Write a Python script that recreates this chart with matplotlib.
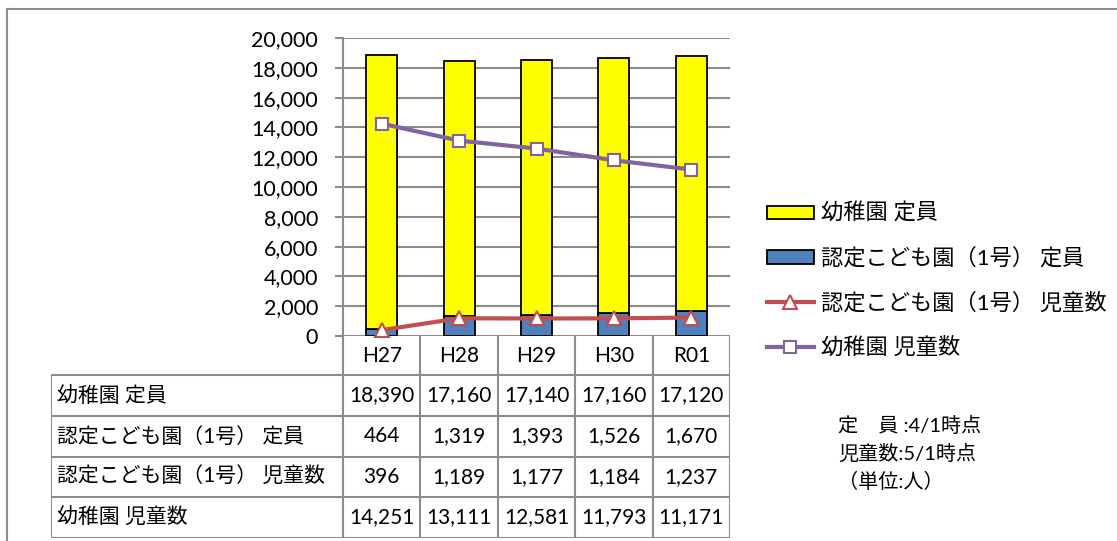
import matplotlib
matplotlib.use("Agg")
import matplotlib.pyplot as plt
from matplotlib.lines import Line2D
from matplotlib.patches import Patch
from matplotlib.ticker import FuncFormatter

plt.rcParams['font.family'] = ['Lato', 'Noto Sans CJK JP', 'DejaVu Sans']

categories = ["H27", "H28", "H29", "H30", "R01"]
kinder_cap = [18390, 17160, 17140, 17160, 17120]        # 幼稚園 定員
nintei_cap = [464, 1319, 1393, 1526, 1670]              # 認定こども園(1号) 定員
nintei_children = [396, 1189, 1177, 1184, 1237]         # 認定こども園(1号) 児童数
kinder_children = [14251, 13111, 12581, 11793, 11171]   # 幼稚園 児童数

row_labels = ["幼稚園 定員", "認定こども園（1号） 定員", "認定こども園（1号） 児童数", "幼稚園 児童数"]
legend_labels = ["幼稚園 定員", "認定こども園（1号） 定員", "認定こども園（1号） 児童数", "幼稚園 児童数"]
notes = ["定\u3000員 :4/1時点", "児童数:5/1時点", "（単位:人）"]

W, H = 1117, 541
fig = plt.figure(figsize=(W / 100, H / 100), dpi=100)

def fx(px):
    return px / W

def fy(py):
    return 1 - py / H

grid_c = "#8c8c8c"
yellow = "#FFFF00"
blue = "#4F81BD"
red = "#C0504D"
purple = "#8064A2"

# outer frame
fig.add_artist(Line2D([fx(7), fx(7)], [fy(9), fy(541)], color="#8c8c8c", lw=1.5))
fig.add_artist(Line2D([fx(7), fx(1117)], [fy(9), fy(9)], color="#8c8c8c", lw=1.5))

# main axes
ax_l, ax_r, ax_t, ax_b = 343, 730, 38, 336
ax = fig.add_axes([fx(ax_l), fy(ax_b), fx(ax_r - ax_l), (ax_b - ax_t) / H])
x = list(range(len(categories)))
bw = 0.4
ax.bar(x, nintei_cap, width=bw, color=blue, edgecolor="black", linewidth=1.3, zorder=3)
ax.bar(x, kinder_cap, width=bw, bottom=nintei_cap, color=yellow, edgecolor="black",
       linewidth=1.3, zorder=3)
ax.plot(x, nintei_children, color=red, lw=3, marker="^", markersize=10,
        markerfacecolor="white", markeredgecolor=red, markeredgewidth=1.5, zorder=5, clip_on=False)
ax.plot(x, kinder_children, color=purple, lw=3, marker="s", markersize=9,
        markerfacecolor="white", markeredgecolor=purple, markeredgewidth=1.5, zorder=5)

ax.set_xlim(-0.5, len(categories) - 0.5)
ax.set_ylim(0, 20000)
ax.set_yticks(range(0, 20001, 2000))
ax.yaxis.set_major_formatter(FuncFormatter(lambda v, p: f"{int(v):,}"))
ax.yaxis.grid(True, color=grid_c, lw=1.5, zorder=0)
ax.set_axisbelow(True)
ax.set_xticks([])
ax.tick_params(axis="y", length=6, width=1.5, color=grid_c, pad=12, labelsize=15.5)
for s in ["top", "right", "bottom"]:
    ax.spines[s].set_visible(False)
ax.spines["left"].set_color(grid_c)
ax.spines["left"].set_linewidth(1.5)
ax.patch.set_alpha(0)

# data table axes
colw = (ax_r - ax_l) / len(categories)
tab_l, tab_r, tab_t, tab_b = 51, 730, 336, 538
tx = fig.add_axes([fx(tab_l), fy(tab_b), fx(tab_r - tab_l), (tab_b - tab_t) / H])
x_left = -0.5 - (ax_l - tab_l) / colw
tx.set_xlim(x_left, len(categories) - 0.5)
tx.set_ylim(tab_b - tab_t, 0)
tx.axis("off")
tx.patch.set_alpha(0)
row_edges = [0, 39, 80, 121, 161, 202]
lkw = dict(color=grid_c, lw=1.5, solid_capstyle="butt")
for i in range(len(categories) + 1):
    xv = i - 0.5
    tx.plot([xv, xv], [row_edges[0], row_edges[-1]], **lkw)
tx.plot([x_left, x_left], [row_edges[1], row_edges[-1]], **lkw)
for ye in row_edges[1:]:
    tx.plot([x_left, len(categories) - 0.5], [ye, ye], **lkw)

for i, c in enumerate(categories):
    tx.text(i, (row_edges[0] + row_edges[1]) / 2, c, ha="center", va="center", fontsize=15)

table_rows = [kinder_cap, nintei_cap, nintei_children, kinder_children]
for r, (lab, vals) in enumerate(zip(row_labels, table_rows)):
    yc = (row_edges[r + 1] + row_edges[r + 2]) / 2
    tx.text(x_left + 0.08, yc, lab, ha="left", va="center", fontsize=15)
    for i, v in enumerate(vals):
        tx.text(i, yc, f"{v:,}", ha="center", va="center", fontsize=15)

# legend
handles = [
    Patch(facecolor=yellow, edgecolor="black", linewidth=1.3),
    Patch(facecolor=blue, edgecolor="black", linewidth=1.3),
    Line2D([], [], color=red, lw=3, marker="^", markersize=10, markerfacecolor="white",
           markeredgecolor=red, markeredgewidth=1.5),
    Line2D([], [], color=purple, lw=3, marker="s", markersize=9, markerfacecolor="white",
           markeredgecolor=purple, markeredgewidth=1.5),
]
fig.legend(handles, legend_labels, loc="upper left", bbox_to_anchor=(fx(767), fy(203)),
           frameon=False, fontsize=16, handlelength=2.1, handleheight=0.55,
           handletextpad=0.35, labelspacing=1.05, borderpad=0, borderaxespad=0)

# notes
for k, t in enumerate(notes):
    fig.text(fx(838), fy(425 + 28 * k), t, ha="left", va="center", fontsize=14.5)

fig.savefig("out.png", dpi=100)
